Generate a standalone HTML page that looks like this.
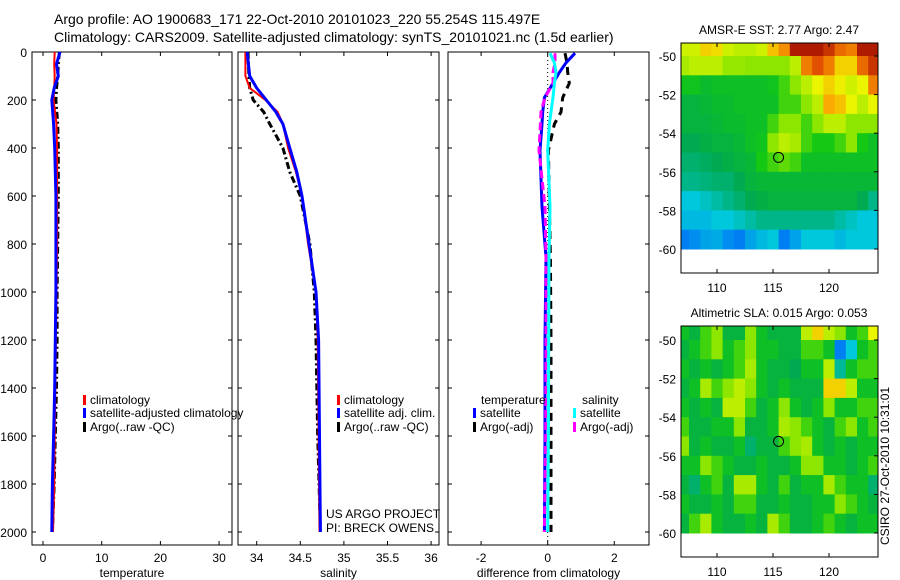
<!DOCTYPE html>
<html><head><meta charset="utf-8"><style>
body{margin:0;background:#fff;width:900px;height:580px;overflow:hidden}
svg{display:block;font-family:"Liberation Sans",sans-serif}
</style></head><body>
<svg id="s" width="900" height="580" xmlns="http://www.w3.org/2000/svg">
<text x="54" y="24" font-size="14">Argo profile: AO 1900683_171 22-Oct-2010 20101023_220 55.254S 115.497E</text>
<text x="54" y="42" font-size="14">Climatology: CARS2009. Satellite-adjusted climatology: synTS_20101021.nc (1.5d earlier)</text>
<text x="0" y="0" font-size="12" transform="translate(889,545) rotate(-90)">CSIRO 27-Oct-2010 10:31:01</text>
<g id="g"></g>
</svg>
<script>
// ---- profile data ----
const depthTicks=[0,200,400,600,800,1000,1200,1400,1600,1800,2000];
const tempTicks=[0,10,20,30];
const salTicks=[34,34.5,35,35.5,36];
const diffTicks=[-2,0,2];
const tDepth=[0,50,100,150,200,300,400,600,800,1000,1200,1400,1600,1800,2000];
const tClim=[2.0,1.9,2.0,1.9,1.8,2.3,2.4,2.4,2.4,2.3,2.2,2.1,2.0,1.9,1.7];
const tSat=[2.9,2.3,2.6,1.9,1.5,1.8,2.0,2.2,2.2,2.2,2.1,2.0,1.8,1.6,1.5];
const tArgo=[2.8,2.6,2.5,2.3,2.2,2.5,2.6,2.6,2.5,2.4,2.4,2.3,2.1,1.9,1.6];
const sDepth=[0,100,150,200,250,300,400,500,600,800,1000,1200,1600,2000];
const sClim=[33.87,33.87,33.92,34.1,34.24,34.3,34.36,34.45,34.52,34.59,34.68,34.7,34.71,34.72];
const sSat=[33.89,33.92,34.0,34.11,34.22,34.3,34.38,34.46,34.52,34.6,34.68,34.71,34.72,34.73];
const sArgo=[33.9,33.91,33.92,33.96,34.08,34.15,34.3,34.38,34.5,34.61,34.66,34.68,34.7,34.73];
const dDepth=[5,45,85,130,190,250,300,410,645,855,1200,1600,2000];
const dTSat=[0.82,0.55,0.35,0.16,-0.1,-0.15,-0.17,-0.23,-0.17,-0.05,-0.08,-0.08,-0.1];
const dTArgo=[0.52,0.58,0.6,0.65,0.45,0.4,0.2,0.02,0.05,0.08,0.1,0.1,0.1];
const dSSat=[0.07,0.2,0.25,0.2,0.16,0.1,0.05,0.0,0.07,0.04,0.03,0.02,0.0];
const dSArgo=[0.22,0.22,0.16,0.16,-0.08,-0.2,-0.22,-0.26,-0.08,-0.05,-0.05,-0.06,-0.1];
// ---- map data (values 0..1 on colormap), rows lat -49.5..-59.5, cols lon 107..124 ----
const sstGrid=[
[.62,.62,.7,.68,.62,.6,.6,.62,.72,.78,.95,.95,.95,.9,.82,.8,.95,.95],
[.58,.6,.6,.6,.56,.56,.55,.55,.55,.55,.6,.8,.85,.8,.7,.7,.82,.9],
[.46,.46,.44,.45,.45,.45,.45,.45,.46,.5,.55,.6,.65,.7,.66,.62,.65,.8],
[.42,.42,.43,.44,.44,.45,.45,.45,.45,.5,.5,.55,.6,.75,.72,.65,.6,.65],
[.42,.42,.42,.43,.44,.44,.45,.45,.5,.55,.55,.5,.55,.6,.6,.55,.55,.55],
[.4,.4,.41,.42,.42,.43,.45,.46,.55,.6,.58,.5,.47,.47,.5,.55,.47,.45],
[.38,.38,.39,.4,.41,.42,.43,.47,.5,.52,.5,.45,.45,.45,.45,.45,.45,.45],
[.36,.36,.37,.38,.38,.4,.42,.43,.43,.43,.43,.43,.43,.43,.43,.43,.43,.43],
[.3,.3,.32,.34,.36,.38,.4,.41,.42,.42,.42,.42,.42,.42,.42,.42,.4,.36],
[.28,.28,.28,.3,.3,.32,.34,.36,.36,.36,.36,.36,.36,.36,.34,.32,.3,.3],
[.2,.22,.25,.26,.22,.2,.25,.28,.3,.2,.25,.3,.3,.3,.28,.3,.3,.3]];
const slaGrid=[
[.45,.42,.5,.55,.42,.42,.55,.45,.42,.42,.42,.6,.7,.6,.55,.45,.5,.65],
[.42,.45,.5,.55,.45,.5,.55,.45,.45,.42,.42,.5,.5,.45,.2,.3,.45,.5],
[.45,.42,.45,.42,.45,.5,.58,.45,.42,.42,.4,.45,.45,.6,.35,.45,.5,.5],
[.42,.45,.58,.5,.55,.6,.55,.45,.42,.45,.42,.42,.42,.7,.7,.6,.45,.45],
[.45,.42,.45,.42,.6,.6,.5,.42,.45,.55,.45,.42,.45,.55,.45,.45,.5,.5],
[.5,.42,.42,.45,.45,.55,.42,.42,.45,.58,.55,.5,.45,.42,.5,.55,.45,.5],
[.55,.42,.45,.42,.42,.45,.38,.42,.42,.5,.55,.58,.45,.42,.45,.42,.45,.45],
[.45,.45,.55,.5,.45,.42,.42,.45,.42,.42,.45,.55,.55,.45,.45,.42,.45,.5],
[.42,.38,.45,.5,.42,.58,.58,.45,.42,.5,.42,.45,.45,.58,.5,.45,.45,.38],
[.45,.42,.42,.45,.42,.5,.5,.42,.42,.45,.42,.42,.45,.45,.55,.5,.45,.42],
[.42,.5,.58,.45,.42,.42,.45,.42,.58,.5,.42,.42,.45,.5,.45,.42,.45,.45]];
const lonTicks=[110,115,120];
const latTicks=[-50,-52,-54,-56,-58,-60];
const argoLon=115.497, argoLat=-55.254;

const NS='http://www.w3.org/2000/svg';
const G=document.getElementById('g');
function mk(t,a,p){const e=document.createElementNS(NS,t);for(const k in a)e.setAttribute(k,a[k]);(p||G).appendChild(e);return e;}
const yD=d=>52+0.24*d;
const panels=[
 {x0:32,x1:232,sx:v=>43+5.87*v,ticks:tempTicks,label:'temperature',name:'temperature-panel'},
 {x0:238,x1:439,sx:v=>256.7+87.2*(v-34),ticks:salTicks,label:'salinity',name:'salinity-panel'},
 {x0:448,x1:649,sx:v=>547.7+33.3*v,ticks:diffTicks,label:'difference from climatology',name:'difference-panel'}];
panels.forEach((p,i)=>{
 const g=mk('g',{});
 
 
 mk('rect',{x:p.x0,y:52,width:p.x1-p.x0,height:493,fill:'none',stroke:'#000','stroke-width':1},g);
 depthTicks.forEach(d=>{const y=yD(d);
  mk('line',{x1:p.x0,x2:p.x0+4,y1:y,y2:y,stroke:'#000'},g);mk('line',{x1:p.x1,x2:p.x1-4,y1:y,y2:y,stroke:'#000'},g);
  if(i==0){const t=mk('text',{x:27,y:y+5,'font-size':12,'text-anchor':'end'},g);t.textContent=d;}});
 p.ticks.forEach(v=>{const x=p.sx(v);
  mk('line',{x1:x,x2:x,y1:545,y2:541,stroke:'#000'},g);mk('line',{x1:x,x2:x,y1:52,y2:56,stroke:'#000'},g);
  const t=mk('text',{x:x,y:562,'font-size':12,'text-anchor':'middle'},g);t.textContent=v;});
 const l=mk('text',{x:(p.x0+p.x1)/2,y:577,'font-size':12,'text-anchor':'middle'},g);l.textContent=p.label;
 
 
 p.g=g;});
function line(p,dep,vals,col,w,dash,name){
 const pts=dep.map((d,k)=>p.sx(vals[k]).toFixed(1)+','+yD(d).toFixed(1)).join(' ');
 const e=mk('polyline',{points:pts,fill:'none',stroke:col,'stroke-width':w,'stroke-dasharray':dash||'none'},p.g);
 
 }
const [P1,P2,P3]=panels;
line(P1,tDepth,tArgo,'#000',3,'7,3,2,3','temp-argo-line');
line(P1,tDepth,tClim,'#f00',2,'','temp-climatology-line');
line(P1,tDepth,tSat,'#00f',3,'','temp-satellite-line');
line(P2,sDepth,sArgo,'#000',3,'7,3,2,3','sal-argo-line');
line(P2,sDepth,sClim,'#f00',2,'','sal-climatology-line');
line(P2,sDepth,sSat,'#00f',3,'','sal-satellite-line');
mk('line',{x1:P3.sx(0),x2:P3.sx(0),y1:52,y2:545,stroke:'#000','stroke-dasharray':'1,3'},P3.g);
line(P3,dDepth,dTArgo,'#000',3,'8,6','diff-temp-argo-line');
line(P3,dDepth,dTSat,'#00f',3,'','diff-temp-satellite-line');
line(P3,dDepth,dSArgo,'#f0f',3,'8,4','diff-sal-argo-line');
line(P3,dDepth,dSSat,'#0ff',3,'','diff-sal-satellite-line');
function leg(x,y,col,txt,name){const g=mk('g',{});
 
 
 if(col)mk('rect',{x:x,y:y-9,width:3,height:10,fill:col},g);
 const t=mk('text',{x:x+7,y:y,'font-size':12},g);t.textContent=txt;}
leg(83,404,'#f00','climatology','legend-climatology');
leg(83,417,'#00f','satellite-adjusted climatology','legend-satellite-adjusted');
leg(83,431,'#000','Argo(..raw -QC)','legend-argo');
leg(337,404,'#f00','climatology','legend-sal-climatology');
leg(337,417,'#00f','satellite adj. clim.','legend-sal-satellite');
leg(337,431,'#000','Argo(..raw -QC)','legend-sal-argo');
leg(319,518,null,'US ARGO PROJECT','project-label');
leg(319,532,null,'PI: BRECK OWENS','pi-label');
leg(474,404,null,'temperature','legend-temp-header');
leg(575,404,null,'salinity','legend-sal-header');
leg(473,417,'#00f','satellite','legend-diff-temp-sat');
leg(473,431,'#000','Argo(-adj)','legend-diff-temp-argo');
leg(573,417,'#0ff','satellite','legend-diff-sal-sat');
leg(573,431,'#f0f','Argo(-adj)','legend-diff-sal-argo');
// colormap
const stops=[[0,[0,0,160]],[.15,[0,90,255]],[.3,[0,200,220]],[.4,[0,170,80]],[.47,[20,200,20]],[.55,[140,230,0]],[.65,[235,245,0]],[.75,[250,170,0]],[.85,[225,80,0]],[1,[150,0,0]]];
function cmap(v){for(let i=1;i<stops.length;i++){if(v<=stops[i][0]){const a=stops[i-1],b=stops[i],f=(v-a[0])/(b[0]-a[0]);return 'rgb('+a[1].map((c,k)=>Math.round(c+f*(b[1][k]-c))).join(',')+')';}}return 'rgb(150,0,0)';}
function map(top,bot,lat50,title,grid,name){
 const g=mk('g',{});
 
 
 const sx=l=>717+11.2*(l-110), sy=la=>lat50+19.3*(-50-la);
 grid.forEach((row,r)=>row.forEach((v,c)=>{
  const x0=sx(106.5+c),x1=sx(107.5+c);
  const cell=mk('rect',{x:Math.max(681,x0),y:r==0?top:sy(-49-r),width:Math.min(878,x1)-Math.max(681,x0)+0.5,height:(r==0?sy(-50)-top:19.3)+0.5,fill:cmap(v)},g);
  
  }));
 mk('rect',{x:681,y:sy(-60)+1,width:197,height:bot-sy(-60)-1,fill:'#fff'},g);
 mk('rect',{x:681,y:top,width:197,height:bot-top,fill:'none',stroke:'#000'},g);
 latTicks.forEach(la=>{const y=sy(la);mk('line',{x1:878,x2:874,y1:y,y2:y,stroke:'#000'},g);
  const t=mk('text',{x:676,y:y+5,'font-size':12,'text-anchor':'end'},g);t.textContent=la;});
 lonTicks.forEach(lo=>{const x=sx(lo);mk('line',{x1:x,x2:x,y1:bot,y2:bot-4,stroke:'#000'},g);mk('line',{x1:x,x2:x,y1:top,y2:top+4,stroke:'#000'},g);
  const t=mk('text',{x:x,y:bot+19,'font-size':12,'text-anchor':'middle'},g);t.textContent=lo;});
 const tt=mk('text',{x:779,y:top-9,'font-size':12,'text-anchor':'middle'},g);tt.textContent=title;
 const c=mk('circle',{cx:sx(argoLon),cy:sy(argoLat),r:5,fill:'none',stroke:'#000','stroke-width':1},g);
 
 }
map(43,273,56,'AMSR-E SST: 2.77 Argo: 2.47',sstGrid,'sst-map');
map(326,557,340,'Altimetric SLA: 0.015 Argo: 0.053',slaGrid,'sla-map');
</script>
</body></html>
